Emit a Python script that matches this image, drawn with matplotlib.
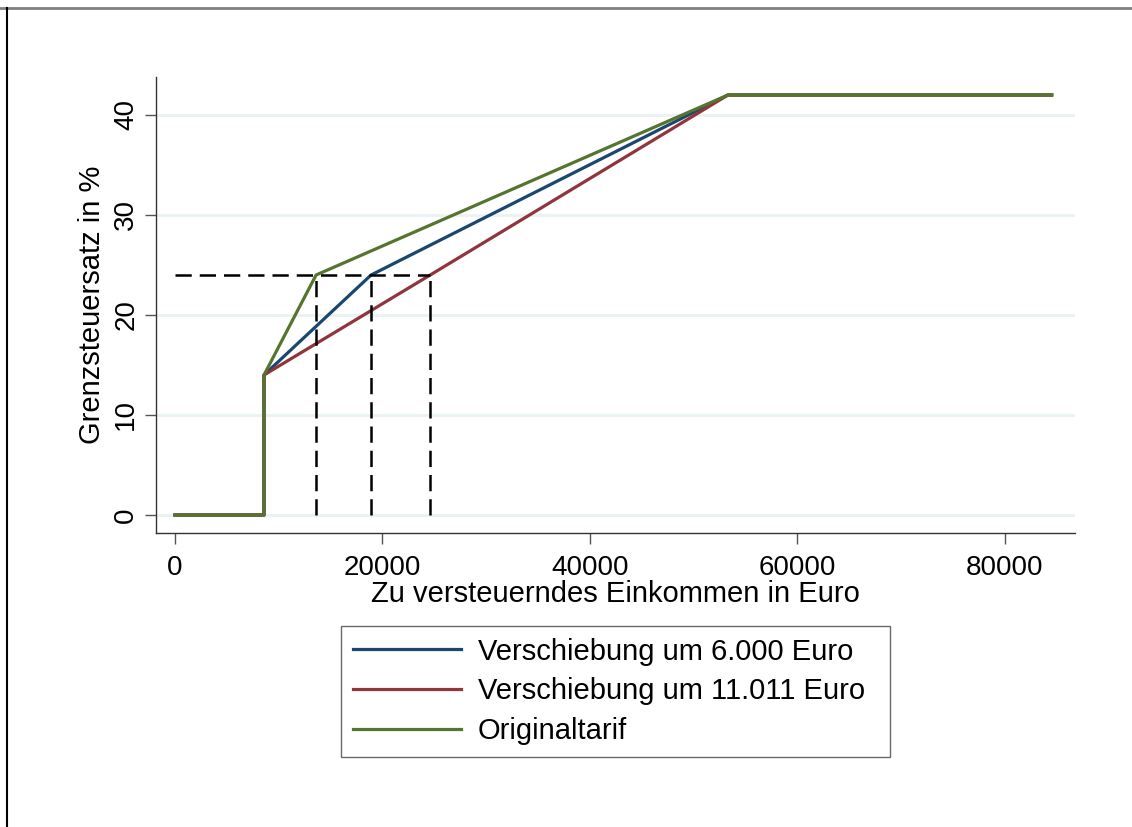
import matplotlib
matplotlib.use("Agg")
import matplotlib.pyplot as plt
from matplotlib.lines import Line2D

plt.rcParams['font.family'] = ['Liberation Sans', 'DejaVu Sans']

# Data
x_orig = [0, 8580, 8580, 13600, 53300, 84500]
y_orig = [0, 0, 14, 24, 42, 42]
x_6000 = [0, 8580, 8580, 18900, 53300, 84500]
y_6000 = [0, 0, 14, 24, 42, 42]
x_11011 = [0, 8580, 8580, 24600, 53300, 84500]
y_11011 = [0, 0, 14, 24, 42, 42]
kinks = [13600, 18900, 24600]
kink_rate = 24

labels = ["Verschiebung um 6.000 Euro", "Verschiebung um 11.011 Euro", "Originaltarif"]
colors = ["#1A476F", "#90353B", "#55752F"]
xticks = [0, 20000, 40000, 60000, 80000]
yticks = [0, 10, 20, 30, 40]

W, H = 1132, 827
fig = plt.figure(figsize=(W / 100, H / 100), dpi=100)
fig.patch.set_facecolor("white")

ax = fig.add_axes([156 / W, 1 - 533 / H, (1075 - 156) / W, (533 - 77) / H])
ax.set_xlim(-1830, 86750)
ax.set_ylim(-1.8, 43.8)

for yt in yticks:
    ax.axhline(yt, color="#EAF2F3", lw=2, zorder=0)

ax.plot(x_6000, y_6000, color=colors[0], lw=2.3, zorder=3, label=labels[0])
ax.plot(x_11011, y_11011, color=colors[1], lw=2.3, zorder=3, label=labels[1])
ax.plot(x_orig, y_orig, color=colors[2], lw=2.3, zorder=4, label=labels[2])

dash = (0, (6.5, 3.2))
ax.plot([0, max(kinks)], [kink_rate, kink_rate], color="black", lw=1.8, linestyle=dash, zorder=5)
for k in kinks:
    ax.plot([k, k], [0, kink_rate], color="black", lw=1.8, linestyle=dash, zorder=5)

for s in ["top", "right"]:
    ax.spines[s].set_visible(False)
for s in ["left", "bottom"]:
    ax.spines[s].set_color("#333333")
    ax.spines[s].set_linewidth(1.0)

ax.set_xticks(xticks)
ax.set_xticklabels([str(v) for v in xticks])
ax.set_yticks(yticks)
ax.set_yticklabels([str(v) for v in yticks], rotation=90, va="center")
ax.tick_params(axis="both", length=8, width=1.0, color="#555555", labelsize=20, pad=4)
ax.tick_params(axis="x", pad=8)

ax.set_xlabel("Zu versteuerndes Einkommen in Euro", fontsize=21, labelpad=-1)
ax.set_ylabel("Grenzsteuersatz in %", fontsize=21, labelpad=5)

handles = [Line2D([], [], color=c, lw=2.3) for c in colors]
x0, x1 = 341 / W, 890 / W
leg = fig.legend(handles, labels, loc="upper left",
                 bbox_to_anchor=(x0, 1 - 626 / H, x1 - x0, 0.0001), bbox_transform=fig.transFigure,
                 mode="expand",
                 fontsize=21, frameon=True, fancybox=False, edgecolor="#444444",
                 handlelength=3.7, handletextpad=0.58, labelspacing=0.4,
                 borderpad=0.4, borderaxespad=0)
leg.get_frame().set_linewidth(1.0)

# Outer frame lines (top and left)
fig.add_artist(Line2D([0, 1], [1 - 8 / H, 1 - 8 / H], transform=fig.transFigure, color="#808080", lw=2))
fig.add_artist(Line2D([7 / W, 7 / W], [0, 1 - 8 / H], transform=fig.transFigure, color="black", lw=1.5))

fig.savefig("out.png", dpi=100, facecolor="white")
